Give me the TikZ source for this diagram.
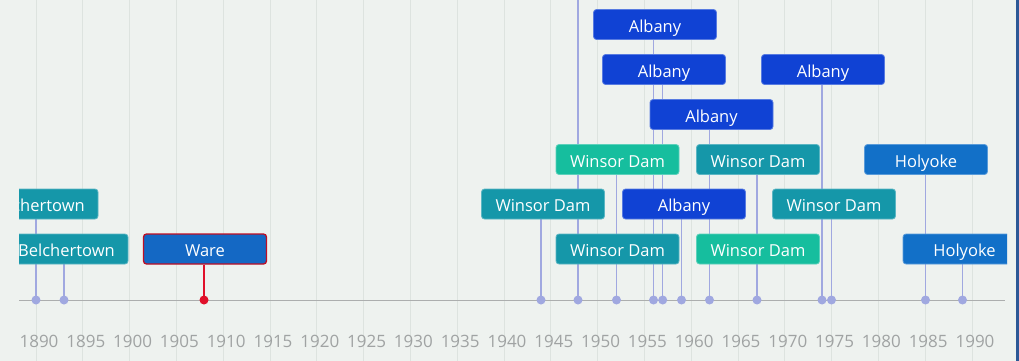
\documentclass[tikz,border=0pt]{standalone}
\usepackage{fontspec}
\setmainfont{Open Sans}
\definecolor{cbg}{RGB}{238,242,239}
\definecolor{cgrid}{RGB}{221,227,223}
\definecolor{caxis}{RGB}{172,174,174}
\definecolor{cstem}{RGB}{160,168,224}
\definecolor{cred}{RGB}{224,16,42}
\definecolor{cteal}{RGB}{21,151,169}
\definecolor{cgreen}{RGB}{22,190,158}
\definecolor{calb}{RGB}{16,66,212}
\definecolor{choly}{RGB}{18,112,200}
\definecolor{cware}{RGB}{20,104,196}
\definecolor{clabel}{RGB}{160,163,163}
\definecolor{cedge}{RGB}{44,88,150}
\pgfdeclarelayer{backl}
\pgfdeclarelayer{stemsl}
\pgfsetlayers{backl,stemsl,main}
\begin{document}
\begin{tikzpicture}[x=1pt,y=-1pt,
  box/.style={rectangle, rounded corners=3pt, minimum width=123pt, minimum height=30pt,
    inner sep=0pt, text=white, font=\fontsize{16.5}{19}\selectfont, line width=0.8pt,
    text height=15.5pt, text depth=0pt},
  wdteal/.style={box, fill=cteal, draw=cteal!70!white},
  wdgreen/.style={box, fill=cgreen, draw=cgreen!70!white},
  albbox/.style={box, fill=calb, draw=calb!70!white},
  holbox/.style={box, fill=choly, draw=choly!70!white},
  warebox/.style={box, fill=cware, draw=cred!85!black, line width=1.3pt},
  dot/.style={circle, fill=cstem, inner sep=0pt, minimum size=9pt},
  reddot/.style={circle, fill=cred, inner sep=0pt, minimum size=9pt},
  stem/.style={draw=cstem, line width=1.4pt},
  redstem/.style={draw=cred, line width=1.6pt},
  gridline/.style={draw=cgrid, line width=1pt},
  yearlbl/.style={text=clabel, font=\fontsize{17}{20}\selectfont, inner sep=0pt}
]
\useasboundingbox (0,0) rectangle (1019,361);
\begin{pgfonlayer}{backl}
\fill[cbg] (0,0) rectangle (1019,361);
\foreach \i in {0,...,20} {
  \pgfmathsetmacro\xx{36+46.8*\i}
  \draw[gridline] (\xx,0) -- (\xx,361);
}
\fill[cedge] (1016,0) rectangle (1019,361);
\end{pgfonlayer}
% year labels
\foreach \i in {0,...,20} {
  \pgfmathsetmacro\xx{36+46.8*\i}
  \pgfmathtruncatemacro\yr{1890+5*\i}
  \node[yearlbl] (y\i) at (\xx+3,341.5) {\yr};
}
% axis
\coordinate (axL) at (19,300);
\coordinate (axR) at (1005,300);
\begin{pgfonlayer}{backl}
\draw[caxis, line width=1pt] (axL) -- (axR);
\end{pgfonlayer}
\begin{scope}
\clip (19,0) rectangle (1007,361);
% dots
\node[dot] (d36) at (36,300) {};
\node[dot] (d64) at (64,300) {};
\node[reddot] (d204) at (204,300) {};
\node[dot] (d541) at (541,300) {};
\node[dot] (d578) at (578,300) {};
\node[dot] (d616) at (616.5,300) {};
\node[dot] (d654) at (653.5,300) {};
\node[dot] (d663) at (662.7,300) {};
\node[dot] (d681) at (681.5,300) {};
\node[dot] (d709) at (709.5,300) {};
\node[dot] (d757) at (757,300) {};
\node[dot] (d822) at (822,300) {};
\node[dot] (d831) at (831.5,300) {};
\node[dot] (d925) at (925.5,300) {};
\node[dot] (d962) at (962.5,300) {};
\coordinate (topline) at (578,0);
% boxes
\node[albbox] (a1) at (655,24.5) {Albany};
\node[albbox] (a2) at (664,69.5) {Albany};
\node[albbox] (a2r) at (823,69.5) {Albany};
\node[albbox] (a3) at (711.5,114.5) {Albany};
\node[wdgreen] (w4g) at (617.5,159.5) {Winsor Dam};
\node[wdteal] (w4t) at (758,159.5) {Winsor Dam};
\node[holbox] (h4) at (926,159.5) {Holyoke};
\node[wdteal] (b5) at (36.5,204) {Belchertown};
\node[wdteal] (w5a) at (543,204) {Winsor Dam};
\node[albbox] (a5) at (684,204) {Albany};
\node[wdteal] (w5b) at (834,204) {Winsor Dam};
\node[wdteal] (b6) at (66.5,249) {Belchertown};
\node[warebox] (ware) at (205,249) {Ware};
\node[wdteal] (w6t) at (617.5,249) {Winsor Dam};
\node[wdgreen] (w6g) at (758,249) {Winsor Dam};
\node[holbox] (h6) at (964.5,249) {Holyoke};
% stems, behind boxes
\begin{pgfonlayer}{stemsl}
\draw[stem] (d36 |- b5.south) -- (d36.center);
\draw[stem] (d64 |- b6.south) -- (d64.center);
\draw[redstem] (d204 |- ware.south) -- (d204.center);
\draw[stem] (d541 |- w5a.south) -- (d541.center);
\draw[stem] (topline) -- (d578.center);
\draw[stem] (d616 |- w4g.south) -- (d616.center);
\draw[stem] (d654 |- a1.south) -- (d654.center);
\draw[stem] (d663 |- a2.south) -- (d663.center);
\draw[stem] (d681 |- a5.south) -- (d681.center);
\draw[stem] (d709 |- a3.south) -- (d709.center);
\draw[stem] (d757 |- w4t.south) -- (d757.center);
\draw[stem] (d822 |- a2r.south) -- (d822.center);
\draw[stem] (d831 |- w5b.south) -- (d831.center);
\draw[stem] (d925 |- h4.south) -- (d925.center);
\draw[stem] (d962 |- h6.south) -- (d962.center);
\end{pgfonlayer}
\end{scope}
\end{tikzpicture}
\end{document}
